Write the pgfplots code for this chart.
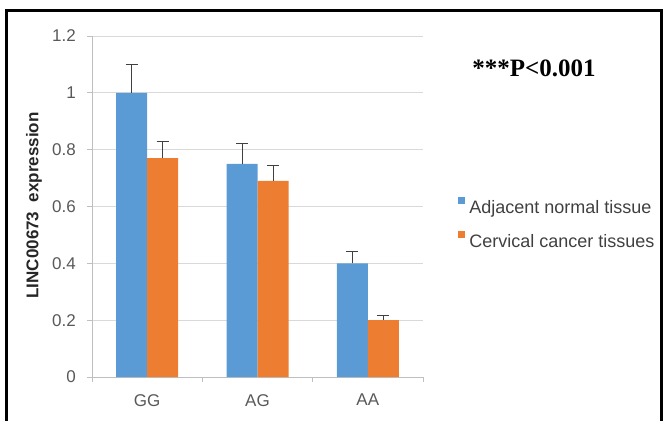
\documentclass[border=0pt]{standalone}
\usepackage{fontspec}
\setmainfont{Liberation Sans}
\newfontfamily\timesfont{Liberation Serif}
\usepackage{pgfplots}
\pgfplotsset{compat=1.18}
\definecolor{barblue}{HTML}{5B9BD5}
\definecolor{barorange}{HTML}{ED7D31}
\definecolor{gridgray}{HTML}{D9D9D9}
\definecolor{axisgray}{HTML}{BFBFBF}
\definecolor{ticktext}{HTML}{595959}
\definecolor{legtext}{HTML}{404040}
\begin{document}
\begin{tikzpicture}[x=1pt,y=1pt]
\useasboundingbox (0,0) rectangle (667,421);
\draw[line width=3pt, black] (6,0) -- (6,410) -- (661,410) -- (661,0);
\begin{axis}[
  at={(92pt,44pt)}, anchor=south west,
  scale only axis, width=331pt, height=341pt,
  ymin=0, ymax=1.2, xmin=-0.5, xmax=2.5,
  ytick={0,0.2,0.4,0.6,0.8,1,1.2},
  yticklabels={0,0.2,0.4,0.6,0.8,1,1.2},
  xtick={-0.5,0.5,1.5,2.5}, xticklabels={},
  extra x ticks={0,1,2}, extra x tick labels={GG,AG,AA},
  extra x tick style={major tick length=0pt, grid=none,
    xticklabel style={anchor=north, inner sep=0pt, yshift=-17pt}},
  ymajorgrids, grid style={gridgray, line width=0.8pt},
  axis x line*=bottom, axis y line*=left,
  axis line style={axisgray, line width=0.8pt, -},
  tick align=outside, major tick length=5pt,
  tick style={axisgray, line width=0.8pt},
  ticklabel style={font=\fontsize{17}{18}\selectfont, text=ticktext},
  yticklabel style={anchor=east, inner sep=0pt, xshift=-11pt},
  ybar=0pt, bar width=31pt,
  ylabel={LINC00673~~expression},
  ylabel style={at={(axis description cs:-0.175,0.503)}, anchor=center,
    inner sep=0pt, font=\fontsize{17}{19}\selectfont\bfseries, text=black!85},
  error bars/y dir=plus, error bars/y explicit,
  error bars/error bar style={color=black!75, line width=0.9pt},
  error bars/error mark options={rotate=90, mark size=6pt, line width=0.9pt, black!75},
  legend style={at={(1.097,0.4516)}, anchor=west, draw=none, fill=none,
    font=\fontsize{18}{20}\selectfont, text=legtext,
    nodes={inner sep=0pt}, row sep=16.6pt,
    /tikz/every odd column/.append style={column sep=4pt}},
  legend cell align=left,
]
\addplot[fill=barblue, draw=none,
  legend image code/.code={\fill[barblue] (0pt,3pt) rectangle (7pt,10pt);}]
  coordinates {(0,1.00) +- (0,0.100) (1,0.75) +- (0,0.073) (2,0.40) +- (0,0.043)};
\addplot[fill=barorange, draw=none,
  legend image code/.code={\fill[barorange] (0pt,3pt) rectangle (7pt,10pt);}]
  coordinates {(0,0.77) +- (0,0.060) (1,0.69) +- (0,0.056) (2,0.20) +- (0,0.018)};
\legend{Adjacent normal tissue, Cervical cancer tissues}
\end{axis}
\node[font=\timesfont\bfseries\fontsize{25}{27}\selectfont, anchor=base, inner sep=0pt] at (534,344) {***P<0.001};
\end{tikzpicture}
\end{document}
